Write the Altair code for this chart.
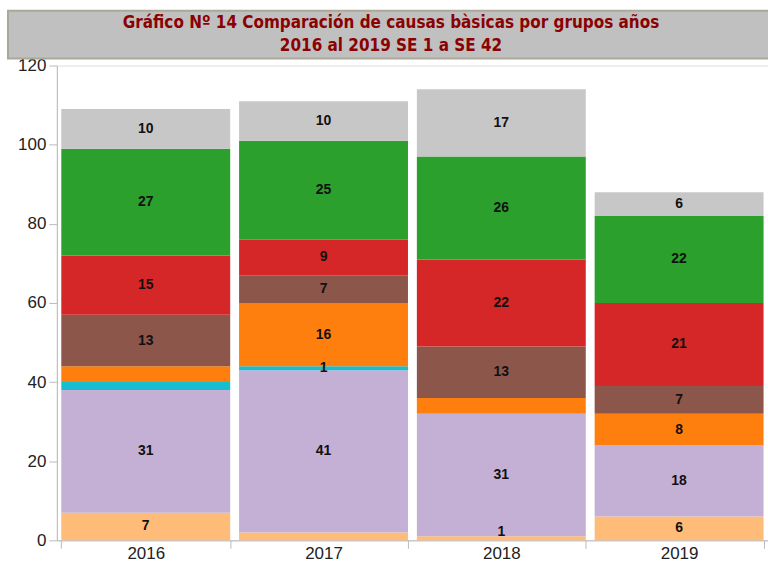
import altair as alt
import pandas as pd

years = ["2016", "2017", "2018", "2019"]
causes = ["Causa 1", "Causa 2", "Causa 3", "Causa 4", "Causa 5", "Causa 6", "Causa 7", "Causa 8"]
colors = ["#ffbb78", "#c5b0d5", "#17becf", "#ff7f0e", "#8c564b", "#d62728", "#2ca02c", "#c7c7c7"]

values = {
    "2016": [7, 31, 2, 4, 13, 15, 27, 10],
    "2017": [2, 41, 1, 16, 7, 9, 25, 10],
    "2018": [1, 31, 0, 4, 13, 22, 26, 17],
    "2019": [6, 18, 0, 8, 7, 21, 22, 6],
}
show_label = {
    "2016": [1, 1, 0, 0, 1, 1, 1, 1],
    "2017": [0, 1, 1, 1, 1, 1, 1, 1],
    "2018": [1, 1, 0, 0, 1, 1, 1, 1],
    "2019": [1, 1, 0, 1, 1, 1, 1, 1],
}
title_lines = ["Gráfico Nº 14  Comparación de causas bàsicas por grupos años",
               "2016 al 2019 SE 1 a SE 42"]

rows = []
for y in years:
    cum = 0
    for i, c in enumerate(causes):
        v = values[y][i]
        rows.append({"year": y, "cause": c, "order": i, "value": v,
                     "start": cum, "end": cum + v,
                     "label": str(v) if show_label[y][i] else ""})
        cum += v
df = pd.DataFrame(rows)
df = df[df["value"] > 0]

W, H = 713, 476
PL, PT = 57, 65
TFONT = "DejaVu Sans Condensed"

x_enc = alt.X("year:N", sort=years, title=None,
              scale=alt.Scale(paddingInner=0.05, paddingOuter=0.025),
              axis=alt.Axis(labelAngle=0, labelFontSize=17, labelColor="#222",
                            labelFont="Liberation Sans", tickBand="extent",
                            tickSize=8, tickColor="#bbb", domainColor="#bbb",
                            labelPadding=-3))

bars = alt.Chart(df).mark_bar().encode(
    x=x_enc,
    y=alt.Y("start:Q", title=None,
            scale=alt.Scale(domain=[0, 120], nice=False),
            axis=alt.Axis(values=[0, 20, 40, 60, 80, 100, 120], grid=False,
                          labelFontSize=17, labelColor="#222",
                          labelFont="Liberation Sans", tickSize=8,
                          tickColor="#bbb", domainColor="#bbb", labelPadding=3)),
    y2="end:Q",
    color=alt.Color("cause:N", scale=alt.Scale(domain=causes, range=colors), legend=None),
)

labels = alt.Chart(df).transform_filter(
    "datum.label != ''"
).transform_calculate(
    mid="max((datum.start + datum.end) / 2, 2.2)"
).mark_text(font="Liberation Sans", fontWeight="bold", fontSize=14, color="#111").encode(
    x=alt.X("year:N", sort=years),
    y=alt.Y("mid:Q"),
    text="label:N",
)

box = alt.Chart(pd.DataFrame({"t": [0]})).mark_rect(
    fill="#c0c0c0", stroke="#aba897", strokeWidth=2
).encode(
    x=alt.value(8 - PL), x2=alt.value(W + 20),
    y=alt.value(10 - PT), y2=alt.value(58 - PT),
)

tdf = pd.DataFrame({"line": title_lines, "idx": [0, 1]})
t1 = alt.Chart(tdf).transform_filter("datum.idx == 0").mark_text(
    font=TFONT, fontWeight="bold", fontSize=17, color="#8b0000",
    baseline="middle", align="center"
).encode(text="line:N", x=alt.value(392 - PL), y=alt.value(22 - PT))
t2 = alt.Chart(tdf).transform_filter("datum.idx == 1").mark_text(
    font=TFONT, fontWeight="bold", fontSize=17, color="#8b0000",
    baseline="middle", align="center"
).encode(text="line:N", x=alt.value(392 - PL), y=alt.value(45 - PT))

chart = alt.layer(box, bars, labels, t1, t2).properties(
    width=W, height=H,
    autosize=alt.AutoSizeParams(type="none"),
    padding={"left": PL, "top": PT, "right": 0, "bottom": 24},
).configure_view(stroke="#bbb", strokeWidth=1).configure(background="white")

chart.save("out.html", embed_options={"renderer": "svg", "actions": False})
